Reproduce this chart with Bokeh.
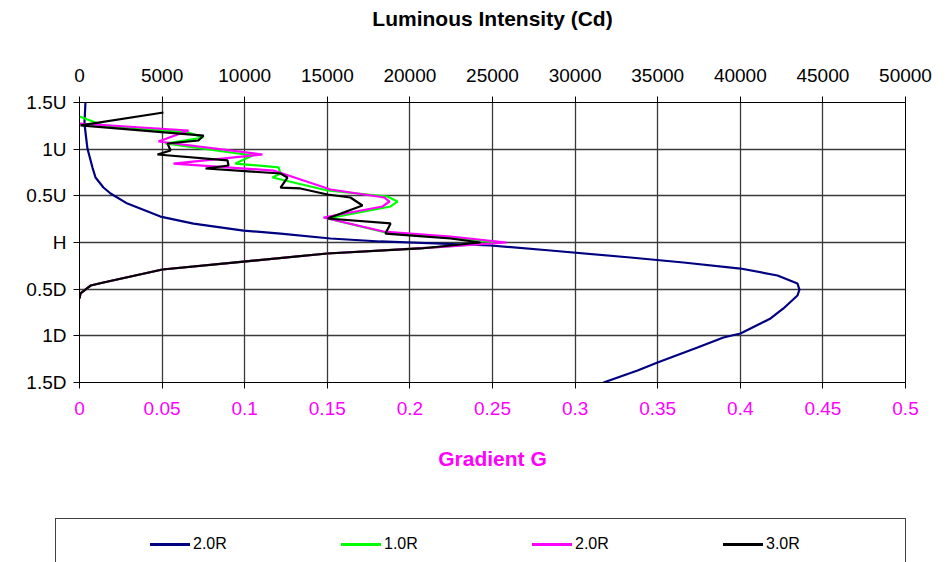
from bokeh.plotting import figure
from bokeh.models import Range1d, LinearAxis, FixedTicker, Div
from bokeh.layouts import column
from bokeh.embed import file_html
from bokeh.resources import INLINE

# ---------------- data ----------------
pos_ticks = [1.5, 1.0, 0.5, 0.0, -0.5, -1.0, -1.5]
pos_labels = ["1.5U", "1U", "0.5U", "H", "0.5D", "1D", "1.5D"]

cd_ticks = [0, 5000, 10000, 15000, 20000, 25000, 30000, 35000, 40000, 45000, 50000]
grad_ticks = [0, 0.05, 0.1, 0.15, 0.2, 0.25, 0.3, 0.35, 0.4, 0.45, 0.5]
grad_labels = ["0", "0.05", "0.1", "0.15", "0.2", "0.25", "0.3", "0.35", "0.4", "0.45", "0.5"]

# 2.0R luminous intensity (Cd)
lum_pos = [1.5, 1.275, 1.007, 0.80, 0.696, 0.589, 0.525, 0.417, 0.278, 0.203, 0.128, 0.096,
           0.043, 0.011, -0.032, -0.086, -0.161, -0.214, -0.279, -0.354, -0.439, -0.504,
           -0.568, -0.707, -0.814, -0.975, -1.018, -1.125, -1.286, -1.371, -1.5]
lum_cd = [360, 300, 480, 790, 970, 1450, 1880, 2900, 4900, 6900, 9930, 12170,
          15190, 18220, 24880, 28510, 33350, 36560, 40010, 42250, 43460, 43580,
          43460, 42610, 41830, 40010, 38980, 37410, 34990, 33780, 31720]

# 1.0R gradient
g10_pos = [1.35, 1.254, 1.179, 1.125, 1.061, 0.932, 0.846, 0.804, 0.739, 0.696, 0.557, 0.493,
           0.439, 0.386, 0.257, 0.107, 0.054, 0.0, -0.054, -0.118, -0.204, -0.289, -0.429,
           -0.461, -0.546, -0.57]
g10_val = [0.0, 0.0145, 0.066, 0.075, 0.052, 0.1047, 0.0944, 0.1205, 0.1217, 0.1168, 0.1501, 0.1864,
           0.1925, 0.1883, 0.1501, 0.1852, 0.2246, 0.2548, 0.2125, 0.150, 0.0993, 0.0502, 0.0145,
           0.0067, 0.0006, 0.0]

# 2.0R gradient
g20_pos = [1.275, 1.2, 1.082, 0.943, 0.846, 0.771, 0.568, 0.482, 0.439, 0.386, 0.268, 0.118,
           0.064, 0.0, -0.054, -0.118, -0.204, -0.289, -0.429, -0.461, -0.546, -0.6]
g20_val = [0.0, 0.066, 0.0478, 0.1108, 0.0569, 0.1174, 0.152, 0.1846, 0.1877, 0.1834, 0.1477, 0.184,
           0.2246, 0.2585, 0.2125, 0.150, 0.0993, 0.0502, 0.0145, 0.0067, 0.0006, 0.0]

# 3.0R gradient
g30_pos = [1.393, 1.254, 1.146, 1.093, 1.061, 0.986, 0.943, 0.879, 0.825, 0.793, 0.739, 0.696,
           0.589, 0.579, 0.514, 0.482, 0.396, 0.257, 0.204, 0.096, 0.043, 0.0, -0.064, -0.118,
           -0.204, -0.289, -0.429, -0.461, -0.546, -0.6]
g30_val = [0.0508, 0.0006, 0.0751, 0.0720, 0.0533, 0.0551, 0.0472, 0.0896, 0.0902, 0.0763, 0.1217, 0.1259,
           0.1217, 0.1338, 0.1501, 0.1640, 0.1713, 0.1501, 0.1883, 0.1852, 0.2246, 0.2427, 0.2064, 0.150,
           0.0993, 0.0502, 0.0145, 0.0067, 0.0006, 0.0]

series_labels = ["2.0R", "1.0R", "2.0R", "3.0R"]
series_colors = ["#000080", "#00FF00", "#FF00FF", "#000000"]

# ---------------- figure ----------------
FONT = "Liberation Sans, Arial, sans-serif"
MAGENTA = "#FF00FF"

p = figure(width=947, height=518, frame_width=826, frame_height=280,
           min_border_left=79, min_border_right=42, min_border_top=102, min_border_bottom=136,
           x_range=Range1d(0, 50000), y_range=Range1d(-1.5, 1.5),
           x_axis_location="above", output_backend="svg", toolbar_location=None)
p.extra_x_ranges = {"grad": Range1d(0, 0.5)}
p.background_fill_color = "white"
p.border_fill_color = "white"
p.outline_line_color = "#000000"
p.outline_line_width = 1

# top axis (luminous intensity)
xa = p.xaxis[0]
xa.ticker = FixedTicker(ticks=cd_ticks)
xa.axis_label = "Luminous Intensity (Cd)"
xa.axis_label_text_color = "#000000"
xa.axis_label_text_font = FONT
xa.axis_label_text_font_style = "bold"
xa.axis_label_text_font_size = "21px"
xa.axis_label_standoff = 36
xa.major_label_text_color = "#000000"
xa.major_label_text_font = FONT
xa.major_label_text_font_size = "19px"
xa.major_label_standoff = 15
xa.major_tick_out = 6
xa.major_tick_in = 0
xa.minor_tick_out = 0
xa.minor_tick_in = 0
xa.axis_line_color = "black"
xa.major_tick_line_color = "black"

# left axis (position)
ya = p.yaxis[0]
ya.ticker = FixedTicker(ticks=pos_ticks)
ya.major_label_overrides = {t: l for t, l in zip(pos_ticks, pos_labels)}
ya.major_label_text_color = "#000000"
ya.major_label_text_font = FONT
ya.major_label_text_font_size = "19px"
ya.major_label_standoff = 7
ya.major_tick_out = 6
ya.major_tick_in = 0
ya.minor_tick_out = 0
ya.minor_tick_in = 0
ya.axis_line_color = "black"
ya.major_tick_line_color = "black"

# bottom axis (gradient)
ba = LinearAxis(x_range_name="grad", ticker=FixedTicker(ticks=grad_ticks))
ba.major_label_overrides = {t: l for t, l in zip(grad_ticks, grad_labels)}
ba.major_label_text_color = MAGENTA
ba.major_label_text_font = FONT
ba.major_label_text_font_size = "19px"
ba.major_label_standoff = 13
ba.major_tick_out = 6
ba.major_tick_in = 0
ba.minor_tick_out = 0
ba.minor_tick_in = 0
ba.axis_line_color = "black"
ba.major_tick_line_color = "black"
ba.axis_label = "Gradient G"
ba.axis_label_text_color = MAGENTA
ba.axis_label_text_font = FONT
ba.axis_label_text_font_style = "bold"
ba.axis_label_text_font_size = "21px"
ba.axis_label_standoff = 29
p.add_layout(ba, "below")

# grid
p.xgrid.ticker = FixedTicker(ticks=cd_ticks)
p.ygrid.ticker = FixedTicker(ticks=pos_ticks)
for g in (p.xgrid[0], p.ygrid[0]):
    g.grid_line_color = "#3a3a3a"
    g.grid_line_width = 1.3

# lines
p.line(lum_cd, lum_pos, line_color=series_colors[0], line_width=2.2)
p.line(g10_val, g10_pos, x_range_name="grad", line_color=series_colors[1], line_width=2.2)
p.line(g20_val, g20_pos, x_range_name="grad", line_color=series_colors[2], line_width=2.2)
p.line(g30_val, g30_pos, x_range_name="grad", line_color=series_colors[3], line_width=2.2)

# ---------------- legend strip (box runs off the bottom edge) ----------------
items_html = "".join(
    f'<div style="position:absolute;left:{150 + i * 191}px;top:16px;height:20px;'
    f'display:flex;align-items:center;white-space:nowrap;">'
    f'<span style="display:inline-block;width:40px;height:3px;background:{c};"></span>'
    f'<span style="margin-left:3px;font-family:{FONT};font-size:16px;color:#000;">{lab}</span></div>'
    for i, (c, lab) in enumerate(zip(series_colors, series_labels))
)
legend_html = (
    '<div style="position:relative;width:947px;height:44px;overflow:hidden;background:#fff;">'
    '<div style="position:absolute;left:55px;top:0px;width:851px;height:80px;'
    'border:1px solid #404040;box-sizing:border-box;"></div>'
    f'{items_html}</div>'
)
legend_div = Div(text=legend_html, width=947, height=44, margin=0)

layout = column(p, legend_div, spacing=0)
open("out.html", "w").write(file_html(layout, INLINE))
